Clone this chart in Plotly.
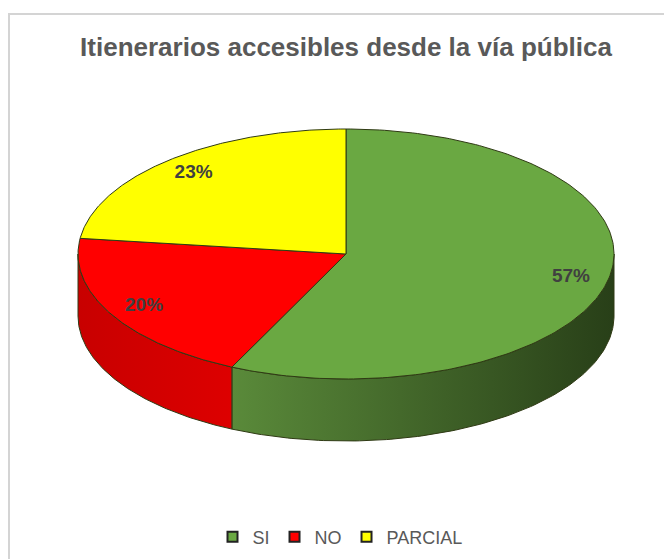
import numpy as np
import plotly.graph_objects as go

# ---- data ----
categories = ["SI", "NO", "PARCIAL"]
values = [57, 20, 23]
labels = ["57%", "20%", "23%"]
title_text = "Itienerarios accesibles desde la vía pública"

# ---- style ----
top_colors = ["#6aa842", "#ff0000", "#ffff00"]
side_scales = [
    [[0, "#5a8a3a"], [1, "#283f18"]],
    [[0, "#c80000"], [1, "#dd0000"]],
    [[0, "#c8c800"], [1, "#e0e000"]],
]
legend_colors = ["#6aa842", "#ff0000", "#ffff00"]
edge = "#2f3a14"

W, H = 672, 559
OFF = 8  # page body margin compensation
cx, cy, a, b, depth = 346, 254, 268, 125, 62
label_r = 0.86


def pt(t):
    return cx + a * np.sin(t), cy - b * np.cos(t)


fig = go.Figure()
total = float(sum(values))
cum = np.concatenate([[0], np.cumsum(values)]) / total * 2 * np.pi

# side walls (front half only)
for i, v in enumerate(values):
    t0, t1 = cum[i], cum[i + 1]
    s0, s1 = max(t0, np.pi / 2), min(t1, 3 * np.pi / 2)
    if s0 >= s1:
        continue
    ts = np.linspace(s0, s1, 120)
    xs, ys = pt(ts)
    px = np.concatenate([xs, xs[::-1], xs[:1]])
    py = np.concatenate([ys, ys[::-1] + depth, ys[:1]])
    fig.add_trace(go.Scatter(
        x=px, y=py, mode="lines", fill="toself",
        fillgradient=dict(type="horizontal", colorscale=side_scales[i]),
        line=dict(color=edge, width=1), hoverinfo="skip", showlegend=False))

# top faces
for i, v in enumerate(values):
    t0, t1 = cum[i], cum[i + 1]
    ts = np.linspace(t0, t1, 200)
    xs, ys = pt(ts)
    px = np.concatenate([[cx], xs, [cx]])
    py = np.concatenate([[cy], ys, [cy]])
    fig.add_trace(go.Scatter(
        x=px, y=py, mode="lines", fill="toself", fillcolor=top_colors[i],
        line=dict(color=edge, width=1), name=categories[i],
        hoverinfo="name", showlegend=False))

# data labels
mids = (cum[:-1] + cum[1:]) / 2
lx = cx + a * label_r * np.sin(mids)
ly = cy - b * label_r * np.cos(mids)
fig.add_trace(go.Scatter(
    x=lx, y=ly, mode="text", text=labels,
    textfont=dict(family="Liberation Sans, Arial", size=19, color="#404040", weight="bold"),
    hoverinfo="skip", showlegend=False))

# legend entries
for i, c in enumerate(categories):
    fig.add_trace(go.Scatter(
        x=[None], y=[None], mode="markers", name=c,
        marker=dict(symbol="square", size=10, color=legend_colors[i],
                    line=dict(color="#222222", width=2))))

fig.add_shape(type="rect", x0=9, y0=14, x1=W + 40, y1=H + 40,
              line=dict(color="#d4d4d4", width=2), layer="below")

fig.update_layout(
    width=W, height=H,
    margin=dict(l=0, r=0, t=0, b=0),
    paper_bgcolor="white", plot_bgcolor="white",
    title=dict(text="<b>" + title_text + "</b>", x=(346 - OFF) / W, xanchor="center",
               y=1 - (47 - OFF) / H, yanchor="middle",
               font=dict(family="Liberation Sans, Arial", size=26, color="#595959")),
    xaxis=dict(range=[OFF, W + OFF], visible=False, fixedrange=True),
    yaxis=dict(range=[H + OFF, OFF], visible=False, fixedrange=True),
    legend=dict(orientation="h", x=(340 - OFF) / W, xanchor="center", y=1 - (537 - OFF) / H,
                yanchor="middle", font=dict(family="Liberation Sans, Arial", size=18, color="#595959"),
                itemwidth=30, tracegroupgap=0),
    showlegend=True,
)

fig.write_html("out.html")
